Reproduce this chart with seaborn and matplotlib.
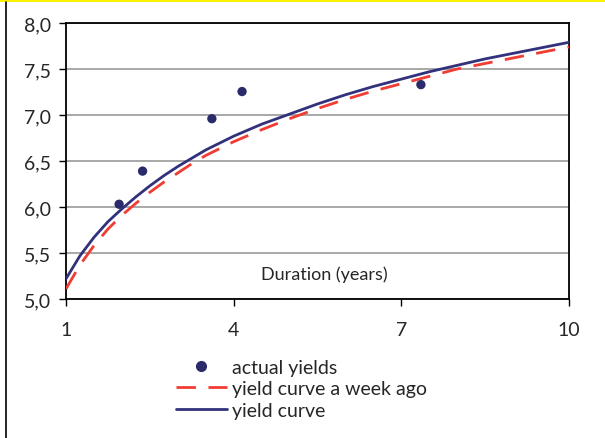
import numpy as np
import pandas as pd
import matplotlib.pyplot as plt
import seaborn as sns
from matplotlib.lines import Line2D
from matplotlib.patches import Rectangle

# values
duration = [1, 1.25, 1.5, 1.75, 2, 2.25, 2.5, 2.75, 3, 3.25, 3.5, 4, 4.5, 5, 5.5, 6, 6.5, 7,
            7.5, 8, 8.5, 9, 9.5, 10]
curve_now = [5.22, 5.47, 5.67, 5.84, 5.98, 6.11, 6.23, 6.34, 6.44, 6.53, 6.62, 6.77, 6.90, 7.01,
             7.12, 7.22, 7.31, 7.39, 7.47, 7.54, 7.61, 7.67, 7.73, 7.79]
curve_week_ago = [5.11, 5.37, 5.58, 5.76, 5.91, 6.04, 6.16, 6.27, 6.37, 6.47, 6.56, 6.71, 6.84,
                  6.96, 7.07, 7.17, 7.26, 7.34, 7.42, 7.50, 7.56, 7.62, 7.68, 7.74]
actual_x = [1.95, 2.37, 3.61, 4.15, 7.35]
actual_y = [6.03, 6.39, 6.96, 7.255, 7.33]
x_ticks = [1, 4, 7, 10]
y_ticks = [5.0, 5.5, 6.0, 6.5, 7.0, 7.5, 8.0]

navy = '#32317c'
dot_col = '#2b2a6a'
red = '#f03c32'

sns.set_style('white')
plt.rcParams['font.family'] = ['Lato', 'DejaVu Sans']

fig = plt.figure(figsize=(6.05, 4.39), dpi=100)
ax = fig.add_axes([66 / 605, 1 - 300 / 439, 503 / 605, 276 / 439])

curves = pd.DataFrame({'x': duration, 'now': curve_now, 'week': curve_week_ago})
sns.scatterplot(x=actual_x, y=actual_y, ax=ax, color=dot_col, s=45, edgecolor='none',
                label='actual yields', zorder=4)
sns.lineplot(data=curves, x='x', y='week', ax=ax, color=red, linewidth=2.0,
             dashes=False, label='yield curve a week ago', zorder=3)
ax.lines[-1].set_dashes([7, 4.5])
sns.lineplot(data=curves, x='x', y='now', ax=ax, color=navy, linewidth=2.0,
             label='yield curve', zorder=3)

ax.set_xlim(1, 10)
ax.set_ylim(5, 8)
ax.set_xticks(x_ticks)
ax.set_xticklabels([str(t) for t in x_ticks])
ax.set_yticks(y_ticks)
ax.set_yticklabels([f'{t:.1f}'.replace('.', ',') for t in y_ticks])
ax.set_xlabel('')
ax.set_ylabel('')
ax.yaxis.grid(True, color='#999999', linewidth=1.2)
ax.set_axisbelow(True)
for s in ax.spines.values():
    s.set_color('black')
    s.set_linewidth(1.3)
ax.tick_params(axis='y', direction='out', length=5, width=1, color='black', pad=6,
               labelsize=14, left=True)
ax.tick_params(axis='x', direction='out', length=5, width=1, color='black', pad=11,
               labelsize=14, bottom=True)

ax.text(0.513, 0.09, 'Duration (years)', transform=ax.transAxes, ha='center', va='center',
        fontsize=13)

ax.legend_.remove()
handles = [
    Line2D([], [], marker='o', color=dot_col, linestyle='none', markersize=7),
    Line2D([], [], color=red, linewidth=2.0, dashes=[7, 4.5]),
    Line2D([], [], color=navy, linewidth=2.0),
]
labels = ['actual yields', 'yield curve a week ago', 'yield curve']
fig.legend(handles, labels, loc='upper left', bbox_to_anchor=(176 / 605, 1 - 360 / 439),
           frameon=False, fontsize=14, handlelength=2.6, handletextpad=0.3,
           labelspacing=0.22, borderpad=0, borderaxespad=0)

# yellow strip at top and black rule on the left, as in the source page
fig.add_artist(Rectangle((0, 1 - 3 / 439), 1, 3 / 439, transform=fig.transFigure,
                         color='#fff200', linewidth=0))
fig.add_artist(Line2D([6 / 605, 6 / 605], [0, 1 - 3 / 439], transform=fig.transFigure,
                      color='black', linewidth=1.2))

fig.savefig('out.png', dpi=100)
